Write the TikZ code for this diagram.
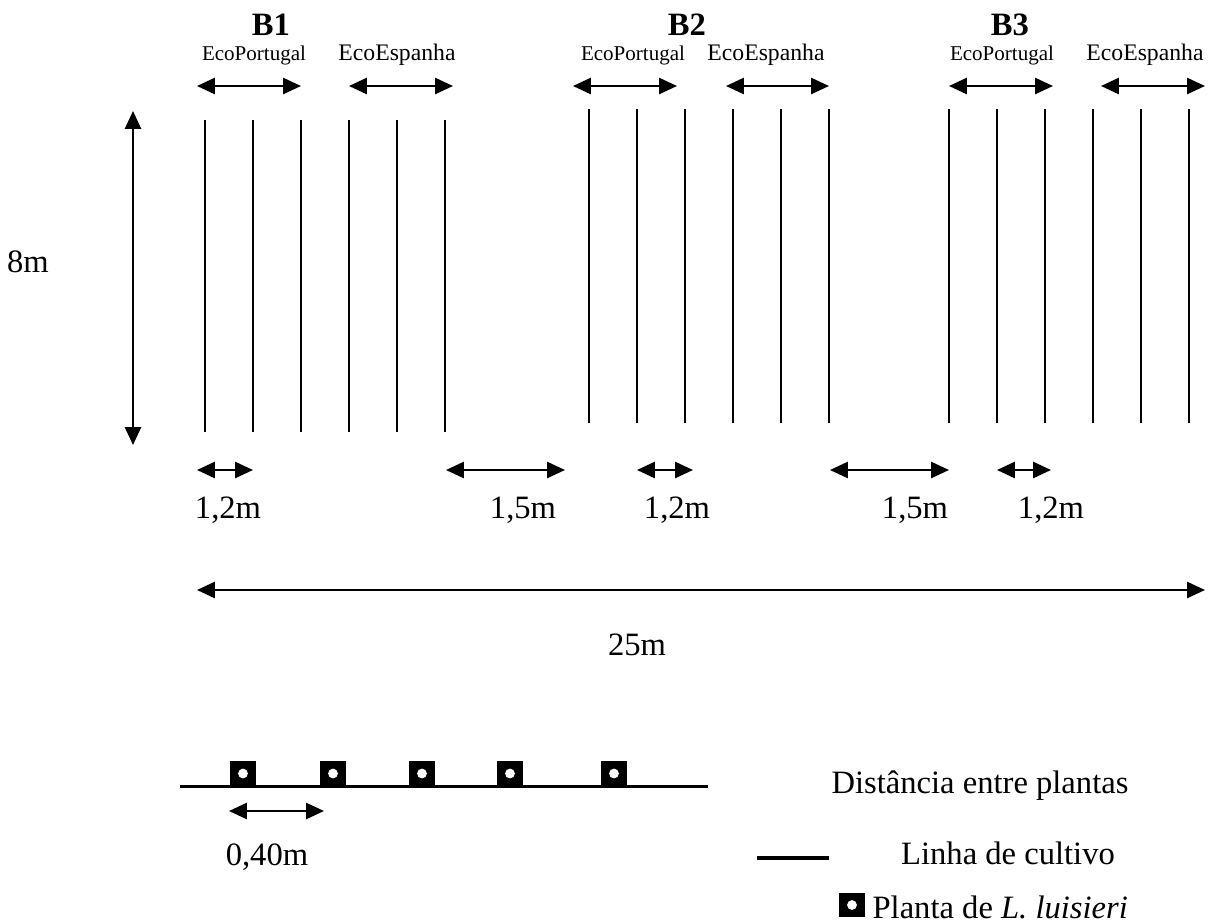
\documentclass[tikz,border=0pt]{standalone}
\usepackage{fontspec}
\setmainfont{Liberation Serif}
\usetikzlibrary{arrows.meta,positioning}
\tikzset{
  cropline/.style={line width=0.7pt},
  dimarrow/.style={{Triangle[length=6pt,width=5.4pt]}-{Triangle[length=6pt,width=5.4pt]}, line width=0.75pt},
  dimlabel/.style={font=\fontsize{11}{13}\selectfont, inner sep=0pt},
  blocklabel/.style={font=\fontsize{11}{13}\selectfont\bfseries, inner sep=0pt},
  ecolabel/.style={font=\fontsize{7.1}{8}\selectfont, inner sep=0pt},
  espalabel/.style={font=\fontsize{8}{9}\selectfont, inner sep=0pt},
  rowline/.style={line width=1.25pt},
  plant/.style={rectangle, fill=black, minimum width=8.8pt, minimum height=8.4pt, inner sep=0pt},
}
\newcommand{\plantdot}[1]{\fill[white] (#1) circle (1.65pt);}

\begin{document}
\begin{tikzpicture}[x=0.3375pt, y=-0.3375pt]
\useasboundingbox (0,0) rectangle (1209,924);

% Crop lines of the three blocks
\foreach \bx/\ytop/\ybot in {205/120/432, 589/109/423, 949/109/423}
  \foreach \i in {0,...,5}
    \draw[cropline] (\bx+48*\i,\ytop) -- (\bx+48*\i,\ybot);

% Block titles
\node[blocklabel] (b1) at (271,25) {B1};
\node[blocklabel] (b2) at (687,25) {B2};
\node[blocklabel] (b3) at (1010,25) {B3};

% Ecotypes over each block
\foreach \n/\px/\pa/\pb/\ex/\ea/\eb in {1/254/197/301/397/349/453, 2/633/573/677/766/726/829, 3/1002/949/1053/1145/1101/1205}{
  \node[ecolabel] (port\n) at (\px,55) {EcoPortugal};
  \node[espalabel] (esp\n) at (\ex,55) {EcoEspanha};
  \coordinate (porta\n) at (\pa,86);
  \coordinate (portb\n) at (\pb,86);
  \coordinate (espa\n) at (\ea,86);
  \coordinate (espb\n) at (\eb,86);
  \draw[dimarrow] (porta\n) -- (portb\n);
  \draw[dimarrow] (espa\n) -- (espb\n);
}

% Plot length
\node[dimlabel] (len) at (28,262) {8m};
\coordinate (lentop) at (133,111);
\coordinate (lenbot) at (133,445);
\draw[dimarrow] (lentop) -- (lenbot);

% Spacings between lines and blocks
\foreach \n/\xa/\xb/\lx/\txt in {1/197/253/228/{1,2m}, 2/446/565/523/{1,5m}, 3/637/693/677/{1,2m}, 4/830/949/915/{1,5m}, 5/997/1051/1051/{1,2m}}{
  \coordinate (spa\n) at (\xa,470);
  \coordinate (spb\n) at (\xb,470);
  \draw[dimarrow] (spa\n) -- (spb\n);
  \node[dimlabel] (sp\n) at (\lx,510) {\txt};
}

% Total width
\coordinate (wa) at (197,590);
\coordinate (wb) at (1205,590);
\draw[dimarrow] (wa) -- (wb);
\node[dimlabel] (width) at (637,645) {25m};

% Row with plants
\coordinate (rowa) at (180,786.5);
\coordinate (rowb) at (708,786.5);
\draw[rowline] (rowa) -- (rowb);
\foreach \px [count=\k] in {243,333,422,510,614}{
  \node[plant] (p\k) at (\px,773.5) {};
  \plantdot{p\k}
}
\coordinate (pda) at (229,811);
\coordinate (pdb) at (324,811);
\draw[dimarrow] (pda) -- (pdb);
\node[dimlabel] (pdist) at (267,857) {0,40m};

% Legend
\node[dimlabel] (legdist) at (980,786) {Distância entre plantas};
\coordinate (lega) at (757,858);
\coordinate (legb) at (829,858);
\draw[rowline, line width=1.4pt] (lega) -- (legb);
\node[dimlabel] (legline) at (1008,853) {Linha de cultivo};
\node[plant, minimum height=8.1pt] (legplant) at (852,905) {};
\plantdot{legplant}
\node[dimlabel, anchor=west] (legtext) at (872,907) {Planta de \textit{L. luisieri}};

\end{tikzpicture}
\end{document}
